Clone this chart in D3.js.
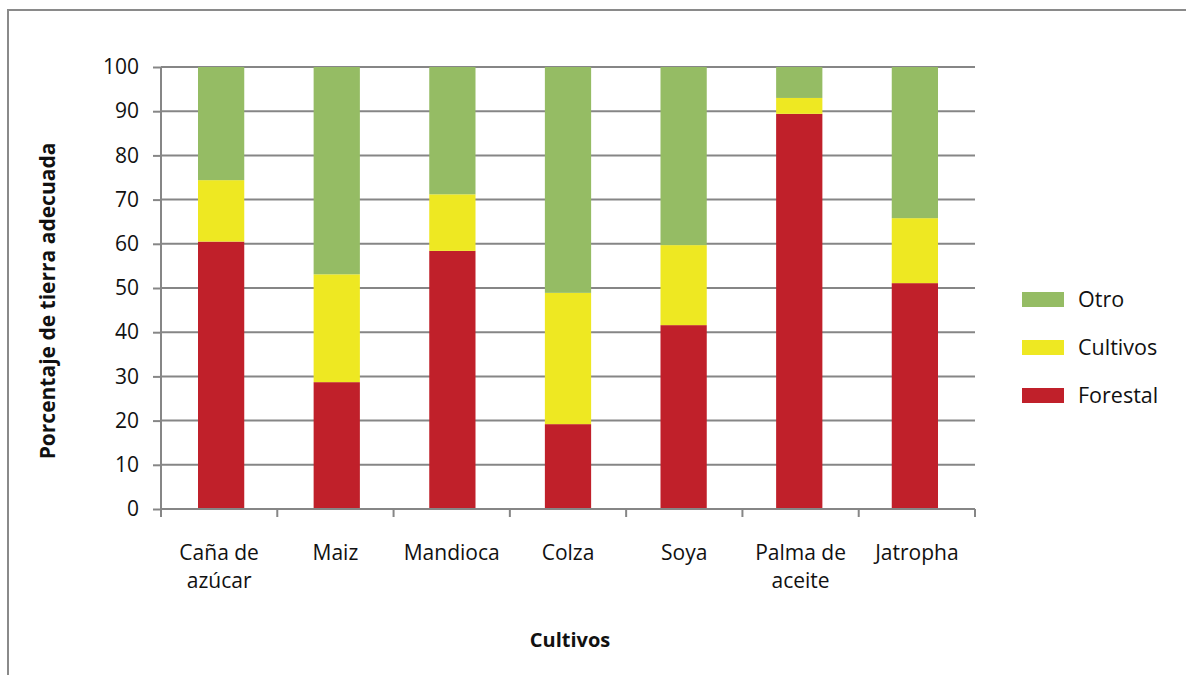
<!DOCTYPE html>
<html>
<head>
<meta charset="utf-8">
<script src="https://cdn.jsdelivr.net/npm/d3@7"></script>
<style>
  html, body { margin: 0; padding: 0; background: #fff; }
  svg { display: block; }
  text { font-family: "Open Sans", "Noto Sans", sans-serif; fill: #111; }
</style>
</head>
<body>
<svg id="chart" width="1186" height="675"></svg>
<script>
// Crops and the share of suitable land (%) by land-cover type
const categories = [["Caña de", "azúcar"], ["Maiz"], ["Mandioca"], ["Colza"], ["Soya"], ["Palma de", "aceite"], ["Jatropha"]];
const forestal = [60.5, 28.7, 58.4, 19.2, 41.6, 89.4, 51.1];
const cultivos = [13.9, 24.4, 12.8, 29.7, 18.1, 3.6, 14.7];
const otro     = [25.6, 46.9, 28.8, 51.1, 40.3, 7.0, 34.2];
const seriesNames = ["Forestal", "Cultivos", "Otro"];
const seriesColors = ["#C0202A", "#EEE822", "#95BC64"];
const yTicks = [0, 10, 20, 30, 40, 50, 60, 70, 80, 90, 100];

const svg = d3.select("#chart");
const margin = { left: 161, right: 211, top: 67, bottom: 166 };
const W = 1186, H = 675;
const plotW = W - margin.left - margin.right;
const plotH = H - margin.top - margin.bottom;

// outer frame
svg.append("rect")
  .attr("x", 8).attr("y", 10)
  .attr("width", 1200).attr("height", 700)
  .attr("fill", "none").attr("stroke", "#8a8a8a").attr("stroke-width", 2);

const keys = categories.map((c, i) => i);
const x = d3.scaleBand().domain(keys).range([0, plotW]).paddingInner(0.6).paddingOuter(0.32);
const xOuter = d3.scaleBand().domain(keys).range([0, plotW]);
const y = d3.scaleLinear().domain([0, 100]).range([plotH, 0]);

const g = svg.append("g").attr("transform", `translate(${margin.left},${margin.top})`);

// horizontal gridlines
g.append("g").selectAll("line").data(yTicks.filter(t => t > 0)).join("line")
  .attr("x1", 0).attr("x2", plotW)
  .attr("y1", d => y(d)).attr("y2", d => y(d))
  .attr("stroke", "#868686").attr("stroke-width", 2);

// stacked bars
const rows = keys.map(i => ({ key: i, Forestal: forestal[i], Cultivos: cultivos[i], Otro: otro[i] }));
const stacked = d3.stack().keys(seriesNames)(rows);
g.append("g").selectAll("g").data(stacked).join("g")
  .attr("fill", (d, i) => seriesColors[i])
  .selectAll("rect").data(d => d).join("rect")
  .attr("x", d => x(d.data.key))
  .attr("width", x.bandwidth())
  .attr("y", d => y(d[1]))
  .attr("height", d => y(d[0]) - y(d[1]));

// y axis
const yAxis = g.append("g")
  .call(d3.axisLeft(y).tickValues(yTicks).tickSize(8).tickPadding(14));
yAxis.select(".domain").attr("stroke", "#868686").attr("stroke-width", 2).attr("d", `M0,${plotH}V0`);
yAxis.selectAll(".tick line").attr("stroke", "#868686").attr("stroke-width", 2);
yAxis.selectAll(".tick text").attr("font-size", 21).attr("fill", "#111")
  .style("font-family", '"Open Sans", sans-serif');

// x axis with ticks at band boundaries
const xg = g.append("g").attr("transform", `translate(0,${plotH})`);
xg.append("line").attr("x1", 0).attr("x2", plotW).attr("y1", 0).attr("y2", 0)
  .attr("stroke", "#868686").attr("stroke-width", 2);
const bounds = keys.map(k => xOuter(k)).concat([plotW]);
xg.selectAll("line.tk").data(bounds).join("line").attr("class", "tk")
  .attr("x1", d => d).attr("x2", d => d).attr("y1", 0).attr("y2", 8)
  .attr("stroke", "#868686").attr("stroke-width", 2);
const labels = xg.selectAll("text.cat").data(keys).join("text").attr("class", "cat")
  .attr("text-anchor", "middle")
  .attr("x", k => xOuter(k) + xOuter.bandwidth() / 2)
  .attr("y", 51)
  .attr("font-size", 21);
labels.selectAll("tspan").data(k => categories[k]).join("tspan")
  .attr("x", function () { return d3.select(this.parentNode).attr("x"); })
  .attr("dy", (d, i) => i === 0 ? 0 : 28)
  .text(d => d);

// axis titles
svg.append("text")
  .attr("x", margin.left + plotW / 2 + 2).attr("y", 647)
  .attr("text-anchor", "middle").attr("font-size", 20).attr("font-weight", "bold")
  .text("Cultivos");
svg.append("text")
  .attr("transform", `translate(55,301) rotate(-90)`)
  .attr("text-anchor", "middle").attr("font-size", 21).attr("font-weight", "bold")
  .text("Porcentaje de tierra adecuada");

// legend (top-down: Otro, Cultivos, Forestal)
const legend = svg.append("g").attr("transform", "translate(1022,292)");
const legendOrder = [2, 1, 0];
legendOrder.forEach((si, r) => {
  const row = legend.append("g").attr("transform", `translate(0,${r * 48})`);
  row.append("rect").attr("width", 42).attr("height", 15).attr("fill", seriesColors[si]);
  row.append("text").attr("x", 56).attr("y", 7.5).attr("dy", "0.35em")
    .attr("font-size", 21.5).text(seriesNames[si]);
});
</script>
</body>
</html>
